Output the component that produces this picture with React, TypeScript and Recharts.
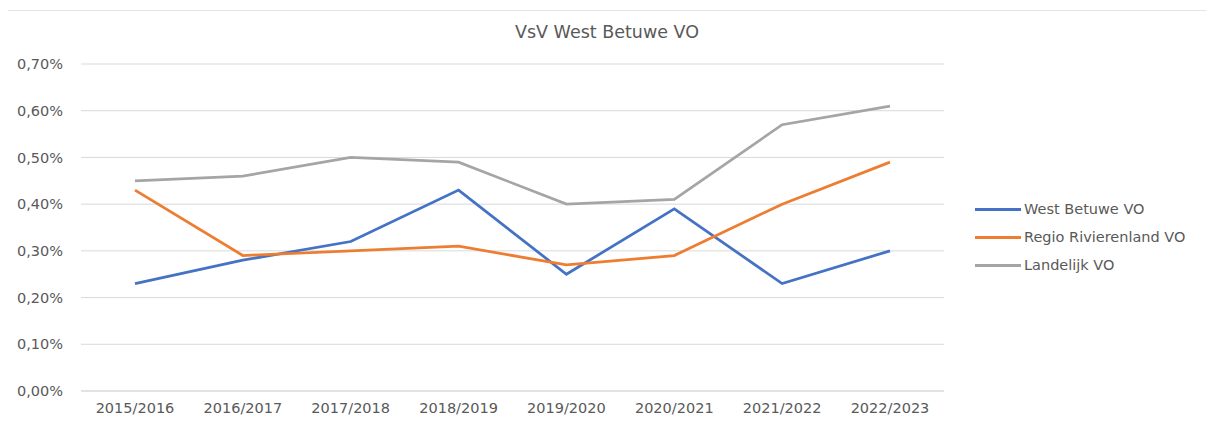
import React from "react";
import { LineChart, Line, XAxis, YAxis, CartesianGrid } from "recharts";

const categories = [
  "2015/2016",
  "2016/2017",
  "2017/2018",
  "2018/2019",
  "2019/2020",
  "2020/2021",
  "2021/2022",
  "2022/2023",
];
const westBetuwe = [0.0023, 0.0028, 0.0032, 0.0043, 0.0025, 0.0039, 0.0023, 0.003];
const regioRivierenland = [0.0043, 0.0029, 0.003, 0.0031, 0.0027, 0.0029, 0.004, 0.0049];
const landelijk = [0.0045, 0.0046, 0.005, 0.0049, 0.004, 0.0041, 0.0057, 0.0061];
const yTicks = [0, 0.001, 0.002, 0.003, 0.004, 0.005, 0.006, 0.007];

const series = [
  { key: "west", name: "West Betuwe VO", color: "#4472C4" },
  { key: "regio", name: "Regio Rivierenland VO", color: "#ED7D31" },
  { key: "landelijk", name: "Landelijk VO", color: "#A5A5A5" },
];

const data = categories.map((cat, i) => ({
  cat,
  west: westBetuwe[i],
  regio: regioRivierenland[i],
  landelijk: landelijk[i],
}));

const FONT = "'DejaVu Sans', sans-serif";
const TEXT = "#595959";

const formatPct = (v: number) => (v * 100).toFixed(2).replace(".", ",") + "%";

export default function App() {
  return (
    <div
      style={{
        position: "relative",
        width: 1214,
        height: 423,
        margin: -8,
        background: "#fff",
      }}
    >
      <div
        style={{
          position: "absolute",
          top: 10,
          left: 0,
          width: 1214,
          borderTop: "1px solid #e3e3e3",
        }}
      />
      <div
        style={{
          position: "absolute",
          top: 22,
          left: 0,
          width: 1214,
          textAlign: "center",
          fontFamily: FONT,
          fontSize: 17.5,
          color: TEXT,
        }}
      >
        VsV West Betuwe VO
      </div>

      {/* legend, drawn as plain html to keep the plot size untouched */}
      <div
        style={{
          position: "absolute",
          top: 195,
          left: 975,
          fontFamily: FONT,
          fontSize: 14.5,
          color: TEXT,
        }}
      >
        {series.map((s) => (
          <div
            key={s.key}
            style={{ display: "flex", alignItems: "center", height: 28 }}
          >
            <span
              style={{
                display: "inline-block",
                width: 46,
                height: 3,
                background: s.color,
                marginRight: 3,
              }}
            />
            <span>{s.name}</span>
          </div>
        ))}
      </div>

      <LineChart
        width={1214}
        height={423}
        data={data}
        margin={{ top: 64, right: 270, bottom: 0, left: 0 }}
      >
        <CartesianGrid vertical={false} stroke="#d9d9d9" strokeWidth={1} />
        <XAxis
          dataKey="cat"
          height={32}
          padding={{ left: 54, right: 54 }}
          tickLine={false}
          axisLine={{ stroke: "#d9d9d9" }}
          tickMargin={6}
          interval={0}
          tick={{ fill: TEXT, fontSize: 14.5, fontFamily: FONT }}
        />
        <YAxis
          width={81}
          domain={[0, 0.007]}
          ticks={yTicks}
          tickFormatter={formatPct}
          tickLine={false}
          axisLine={false}
          tickMargin={12}
          tick={{ fill: TEXT, fontSize: 14.5, fontFamily: FONT }}
        />
        {series.map((s) => (
          <Line
            key={s.key}
            type="linear"
            dataKey={s.key}
            name={s.name}
            stroke={s.color}
            strokeWidth={2.75}
            dot={false}
            activeDot={false}
            isAnimationActive={false}
          />
        ))}
      </LineChart>
    </div>
  );
}
